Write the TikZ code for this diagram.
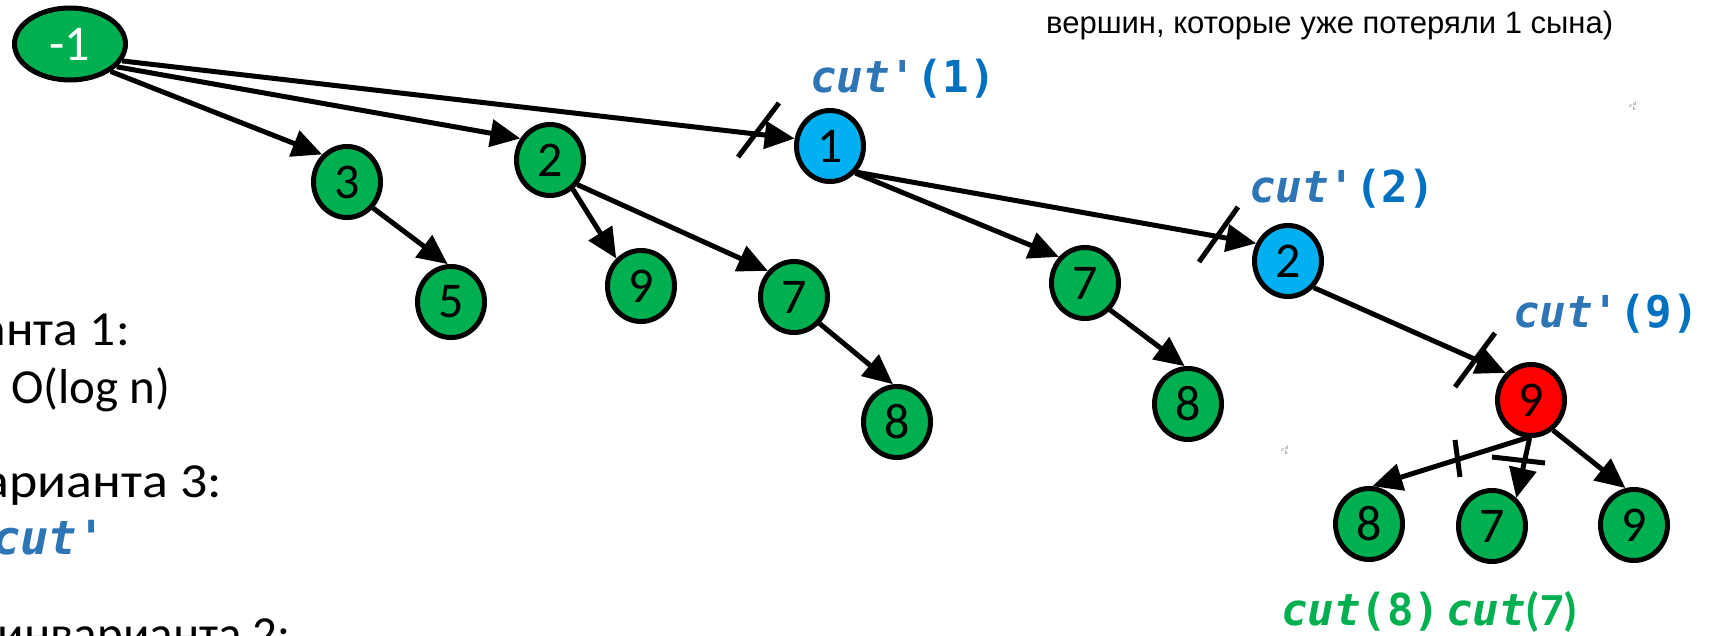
\documentclass[tikz,border=0pt]{standalone}
\usepackage{fontspec}
\setmainfont{Carlito}
\newfontfamily\calib{Carlito}
\newfontfamily\arialf{Liberation Sans}
\newfontfamily\monof{DejaVu Sans Mono}
\usetikzlibrary{shapes.geometric,arrows.meta}
\definecolor{ngreen}{HTML}{00B050}
\definecolor{nblue}{HTML}{00B0F0}
\definecolor{cutblue}{HTML}{2E75B6}
\definecolor{parblue}{HTML}{0070C0}
\newcommand\mycutp[1]{{\monof\bfseries\itshape\color{cutblue}cut'}{\monof\bfseries\color{parblue}(#1)}}
\begin{document}
\begin{tikzpicture}[x=1pt,y=-1pt,
  tnode/.style={ellipse,draw=black,line width=5pt,minimum width=67pt,minimum height=71pt,inner sep=0pt,font=\calib\fontsize{50}{50}\selectfont},
  gnode/.style={tnode,fill=ngreen},
  bnode/.style={tnode,fill=nblue},
  rnode/.style={tnode,fill=red},
  edge/.style={line width=5pt,-{Triangle[length=30pt,width=27pt]}},
  cutmark/.style={line width=5pt},
  lbl/.style={anchor=base west,inner sep=0pt},
  lblr/.style={anchor=base east,inner sep=0pt},
  bigtext/.style={font=\calib\fontsize{49}{49}\selectfont},
  cutfont/.style={font=\fontsize{44}{44}\selectfont},
  tiny/.style={font=\fontsize{6}{6}\selectfont,text=black!70,inner sep=0pt}
]
\useasboundingbox (0,0) rectangle (1716,636);
% nodes
\node[gnode,minimum width=111pt,minimum height=72pt,text=white] (m1) at (70,44) {-1};
\node[gnode] (n3) at (347,182) {3};
\node[gnode] (n2) at (550,160) {2};
\node[gnode] (n5) at (451,302) {5};
\node[gnode] (n9a) at (641,286) {9};
\node[gnode] (n7a) at (794,297) {7};
\node[gnode] (n8a) at (897,422) {8};
\node[bnode] (b1) at (830,146) {1};
\node[gnode] (n7b) at (1085,283) {7};
\node[gnode] (n8b) at (1188,404) {8};
\node[bnode] (b2) at (1288,261) {2};
\node[rnode] (r9) at (1531,400) {9};
\node[gnode] (n8c) at (1369,524) {8};
\node[gnode] (n7c) at (1492,526) {7};
\node[gnode] (n9c) at (1634,525) {9};
% edges
\draw[edge] (m1.-18) -- (b1.168);
\draw[edge] (m1.-26) -- (n2.144);
\draw[edge] (m1.-34) -- (n3.132);
\draw[edge] (n3.-45) -- (n5.95);
\draw[edge] (n2.-52) -- (n9a.132);
\draw[edge] (n2.-42) -- (n7a.135);
\draw[edge] (n7a.-46) -- (n8a.96);
\draw[edge] (b1.-47) -- (n7b.135);
\draw[edge] (b1.-45) -- (b2.151);
\draw[edge] (n7b.-47) -- (n8b.95);
\draw[edge] (b2.-46) -- (r9.133);
\draw[edge] (r9.-96) -- (n8c.85);
\draw[edge] (r9.-92) -- (n7c.49);
\draw[edge] (r9.-54) -- (n9c.103);
% cut marks
\draw[cutmark] (738,157) -- (779,103);
\draw[cutmark] (1199,262) -- (1238,207);
\draw[cutmark] (1455,387) -- (1495,333);
\draw[cutmark] (1455,440) -- (1460,477);
\draw[cutmark] (1492,457) -- (1545,463);
% labels
\node[lbl,cutfont] (c1) at (810,93) {\mycutp{1}};
\node[lbl,cutfont] (c2) at (1249,203) {\mycutp{2}};
\node[lbl,cutfont] (c9) at (1513,327) {\mycutp{9}};
\node[lbl,cutfont,text=ngreen] (c8) at (1281,625) {{\monof\bfseries\itshape cut}{\monof\bfseries (8)}};
\node[lbl,cutfont,text=ngreen] (c7) at (1446,625) {{\monof\bfseries\itshape cut}{\calib\bfseries\fontsize{46}{46}\selectfont (7)}};
% left text
\node[lblr,bigtext] (t1) at (130,345) {\scalebox{1.05}[1]{анта 1:}};
\node[lbl,bigtext] (t2) at (11,403) {O(log n)};
\node[lblr,bigtext] (t3) at (222,497) {\scalebox{1.1}[1]{арианта 3:}};
\node[lbl,cutfont,text=cutblue,font=\fontsize{47}{47}\selectfont] (t4) at (-8,554) {\monof\bfseries\itshape cut'};
\node[lblr,bigtext] (t5) at (291,650) {инварианта 2:};
% top right text
\node[lbl,font=\arialf\fontsize{31}{31}\selectfont] (t6) at (1046,34) {вершин, которые уже потеряли 1 сына)};
% tiny glyphs
\node[tiny] (g1) at (1633,106) {$c_b^d$};
\node[tiny] (g2) at (1285,450) {$c_b^d$};
\end{tikzpicture}
\end{document}
